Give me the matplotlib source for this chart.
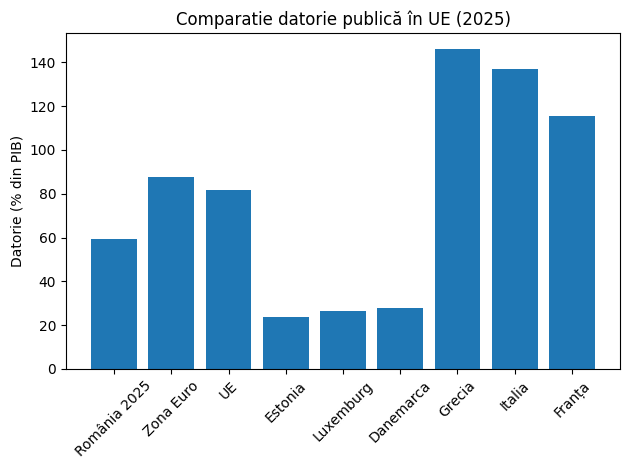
import matplotlib
matplotlib.use("Agg")
from matplotlib import pyplot as plt

# datorie publica, % din PIB
tari = ["România 2025", "Zona Euro", "UE", "Estonia", "Luxemburg",
        "Danemarca", "Grecia", "Italia", "Franța"]
datorie = [59.4, 87.7, 81.8, 23.9, 26.6, 28.0, 146.1, 137.0, 115.5]

fig, ax = plt.subplots(figsize=(6.3, 4.7), dpi=100)
ax.bar(tari, datorie, color="#1f77b4")

ax.set_title("Comparatie datorie publică în UE (2025)")
ax.set_ylabel("Datorie (% din PIB)")
plt.xticks(rotation=45)

# pozitia axelor potrivita dupa imaginea de referinta
plt.subplots_adjust(left=0.1048, right=0.9841, top=0.9298, bottom=0.2149)
plt.savefig("out.png")
